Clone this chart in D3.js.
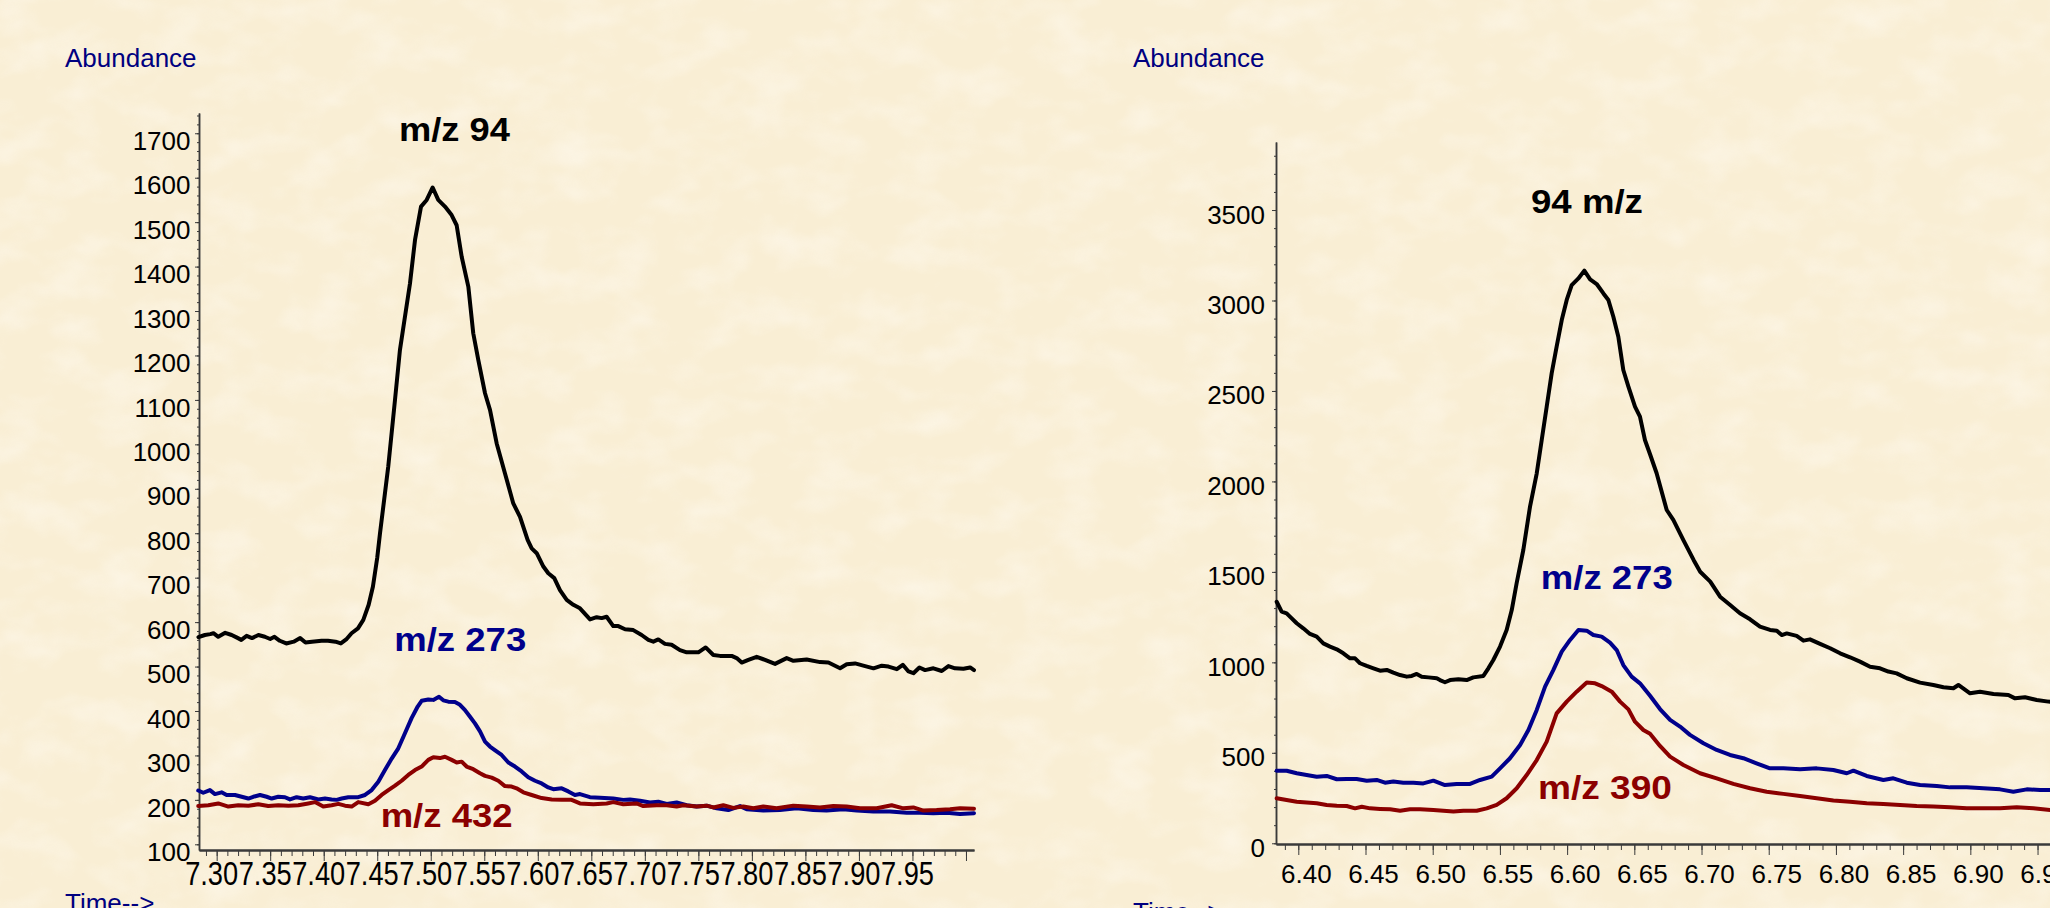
<!DOCTYPE html>
<html>
<head>
<meta charset="utf-8">
<title>Ion chromatograms</title>
<style>
body { margin: 0; overflow: hidden; background: #f9efd6; }
svg { display: block; }
text { font-family: "Liberation Sans", Arial, sans-serif; }
.axis path, .axis line { stroke: #3a3a3a; }
.axis path { stroke-width: 1.5px; }
.xaxis path { stroke-width: 2px; }
.trace { fill: none; stroke-width: 4px; stroke-linejoin: round; stroke-linecap: round; }
.tick-label { font-size: 26px; fill: #000; }
.ion-label { font-size: 34px; font-weight: bold; }
.unit-label { font-size: 26px; fill: #000080; }
</style>
</head>
<body>
<script src="https://cdn.jsdelivr.net/npm/d3@7"></script>
<script>

// ---- left run: time (min), abundance ----
var left94 = [[7.283,566],[7.289,571],[7.294,573],[7.297,575],[7.3015,567],[7.308,576],[7.314,571],[7.319,565],[7.323,560],[7.328,569],[7.333,564],[7.339,571],[7.345,567],[7.350,562],[7.354,567],[7.359,558],[7.365,552],[7.372,556],[7.378,564],[7.383,554],[7.389,556],[7.398,558],[7.404,558],[7.411,556],[7.416,552],[7.421,561],[7.426,575],[7.432,586],[7.437,605],[7.442,639],[7.446,680],[7.450,745],[7.4526,800],[7.4603,950],[7.4666,1100],[7.4712,1212],[7.4759,1287],[7.4806,1362],[7.4853,1460],[7.4909,1535],[7.4962,1550],[7.5018,1578],[7.5070,1550],[7.5133,1535],[7.5195,1516],[7.5242,1493],[7.5289,1422],[7.5351,1355],[7.5397,1250],[7.5444,1190],[7.5507,1115],[7.5554,1077],[7.5616,1002],[7.5693,935],[7.5771,867],[7.5834,837],[7.5905,785],[7.5943,766],[7.5990,755],[7.6052,725],[7.6098,710],[7.6154,699],[7.6207,672],[7.6270,650],[7.6332,639],[7.6394,631],[7.6488,606],[7.6550,611],[7.6597,609],[7.6643,612],[7.6705,591],[7.6752,591],[7.6815,584],[7.6892,582],[7.6970,571],[7.7033,560],[7.7079,556],[7.7126,561],[7.7188,551],[7.7250,549],[7.7328,537],[7.7391,532],[7.7500,532],[7.7568,543],[7.7640,526],[7.7702,524],[7.7811,524],[7.7858,519],[7.7905,509],[7.7967,515],[7.8045,522],[7.8123,515],[7.8216,506],[7.8325,519],[7.8388,513],[7.8512,516],[7.8637,510],[7.8715,509],[7.8824,496],[7.8886,505],[7.8964,507],[7.9058,501],[7.9136,496],[7.9214,502],[7.9276,500],[7.9354,494],[7.9410,504],[7.9463,489],[7.9509,485],[7.9565,498],[7.9618,492],[7.9696,496],[7.9774,490],[7.9836,501],[7.9898,496],[7.9976,495],[8.0039,498],[8.0075,492]];

var left273 = [[7.2828,221],[7.2875,216],[7.2937,222],[7.2984,213],[7.3046,217],[7.3093,211],[7.3171,211],[7.3233,207],[7.3296,203],[7.3342,207],[7.3405,211],[7.3467,207],[7.3514,203],[7.3576,207],[7.3638,206],[7.3685,201],[7.3747,206],[7.3809,203],[7.3872,206],[7.3950,201],[7.4012,203],[7.4074,201],[7.4121,200],[7.4168,203],[7.4230,206],[7.4323,206],[7.4386,211],[7.4448,222],[7.4510,241],[7.4572,267],[7.4635,293],[7.4697,316],[7.4759,350],[7.4821,384],[7.4878,410],[7.4915,423],[7.4977,426],[7.5024,425],[7.5077,432],[7.5117,424],[7.5164,421],[7.5226,420],[7.5273,414],[7.5320,402],[7.5367,387],[7.5413,372],[7.5460,354],[7.5507,331],[7.5553,320],[7.5615,309],[7.5662,301],[7.5725,284],[7.5787,275],[7.5849,264],[7.5911,251],[7.5974,243],[7.6036,237],[7.6098,228],[7.6145,224],[7.6223,226],[7.6285,219],[7.6347,211],[7.6394,213],[7.6487,206],[7.6581,205],[7.6705,203],[7.6799,200],[7.6861,201],[7.6955,198],[7.7048,194],[7.7126,196],[7.7204,191],[7.7297,194],[7.7391,188],[7.7484,185],[7.7577,187],[7.7671,181],[7.7780,177],[7.7889,186],[7.7951,179],[7.8107,176],[7.8262,177],[7.8418,181],[7.8574,177],[7.8698,176],[7.8854,179],[7.8979,176],[7.9134,174],[7.9290,174],[7.9446,171],[7.9570,171],[7.9695,170],[7.9819,171],[7.9944,168],[8.0075,170]];

var left432 = [[7.2828,186],[7.2922,188],[7.3015,192],[7.3109,185],[7.3202,188],[7.3296,187],[7.3389,190],[7.3482,186],[7.3576,188],[7.3670,187],[7.3763,188],[7.3856,192],[7.3918,195],[7.3996,185],[7.4074,188],[7.4137,191],[7.4199,187],[7.4261,185],[7.4323,195],[7.4417,190],[7.4479,198],[7.4541,211],[7.4604,222],[7.4666,232],[7.4728,243],[7.4790,256],[7.4853,267],[7.4915,275],[7.4977,290],[7.5024,296],[7.5086,294],[7.5133,297],[7.5195,290],[7.5242,284],[7.5289,286],[7.5335,275],[7.5397,269],[7.5460,260],[7.5507,254],[7.5569,250],[7.5631,243],[7.5693,231],[7.5756,230],[7.5802,226],[7.5865,217],[7.5943,211],[7.6036,204],[7.6130,201],[7.6223,200],[7.6316,200],[7.6394,192],[7.6519,190],[7.6643,192],[7.6705,195],[7.6799,190],[7.6923,192],[7.6986,186],[7.7110,188],[7.7204,188],[7.7297,185],[7.7359,188],[7.7484,185],[7.7577,187],[7.7640,183],[7.7733,188],[7.7826,182],[7.7920,185],[7.8013,181],[7.8107,185],[7.8231,181],[7.8387,187],[7.8512,185],[7.8636,183],[7.8761,186],[7.8885,185],[7.9010,181],[7.9166,181],[7.9306,188],[7.9415,181],[7.9508,183],[7.9602,176],[7.9726,177],[7.9851,179],[7.9944,181],[8.0075,180]];

// ---- right run ----
var right94 = [[6.3839,1335],[6.3876,1280],[6.3913,1271],[6.3951,1243],[6.3988,1216],[6.4037,1188],[6.4087,1157],[6.4137,1142],[6.4186,1105],[6.4236,1087],[6.4286,1072],[6.4335,1050],[6.4385,1022],[6.4422,1022],[6.4459,995],[6.4509,980],[6.4559,967],[6.4608,954],[6.4658,958],[6.4707,943],[6.4757,930],[6.4807,921],[6.4844,925],[6.4881,936],[6.4918,921],[6.4968,917],[6.5030,912],[6.5054,902],[6.5091,890],[6.5129,902],[6.5191,906],[6.5253,902],[6.5302,917],[6.5377,925],[6.5414,967],[6.5451,1013],[6.5501,1087],[6.5550,1179],[6.5588,1289],[6.5625,1440],[6.5674,1621],[6.5724,1861],[6.5774,2045],[6.5811,2229],[6.5848,2413],[6.5885,2597],[6.5922,2745],[6.5960,2892],[6.5997,3003],[6.6034,3085],[6.6084,3122],[6.6128,3165],[6.6171,3117],[6.6220,3091],[6.6270,3039],[6.6307,3003],[6.6344,2910],[6.6381,2800],[6.6418,2616],[6.6456,2524],[6.6505,2413],[6.6542,2358],[6.6579,2229],[6.6617,2150],[6.6666,2045],[6.6741,1842],[6.6790,1787],[6.6865,1676],[6.6941,1566],[6.6990,1501],[6.7065,1446],[6.7138,1363],[6.7213,1317],[6.7286,1271],[6.7361,1238],[6.7435,1197],[6.7510,1179],[6.7560,1175],[6.7597,1151],[6.7634,1160],[6.7708,1146],[6.7758,1120],[6.7807,1127],[6.7882,1102],[6.7957,1078],[6.8031,1050],[6.8105,1028],[6.8179,1004],[6.8254,976],[6.8328,967],[6.8390,949],[6.8452,939],[6.8527,912],[6.8626,888],[6.8725,875],[6.8800,862],[6.8874,857],[6.8911,875],[6.8998,829],[6.9072,838],[6.9172,825],[6.9283,820],[6.9333,801],[6.9407,807],[6.9494,792],[6.9581,783],[6.9650,778]];

var right273 = [[6.3839,401],[6.3913,401],[6.3988,387],[6.4062,377],[6.4137,368],[6.4211,372],[6.4286,354],[6.4360,355],[6.4434,355],[6.4509,346],[6.4583,350],[6.4645,335],[6.4707,341],[6.4781,335],[6.4856,335],[6.4930,331],[6.5005,346],[6.5091,322],[6.5178,328],[6.5278,328],[6.5352,350],[6.5439,368],[6.5501,414],[6.5575,470],[6.5650,543],[6.5712,626],[6.5774,737],[6.5836,866],[6.5898,958],[6.5960,1059],[6.6022,1124],[6.6084,1179],[6.6146,1175],[6.6195,1151],[6.6257,1142],[6.6319,1109],[6.6369,1068],[6.6418,985],[6.6480,921],[6.6542,884],[6.6617,815],[6.6691,742],[6.6766,682],[6.6840,645],[6.6914,599],[6.7014,553],[6.7113,516],[6.7212,488],[6.7311,470],[6.7409,442],[6.7509,414],[6.7609,414],[6.7733,409],[6.7857,414],[6.7981,405],[6.8081,387],[6.8130,401],[6.8229,372],[6.8353,350],[6.8427,359],[6.8527,335],[6.8626,322],[6.8750,317],[6.8849,309],[6.8973,309],[6.9097,304],[6.9221,298],[6.9320,285],[6.9420,298],[6.9519,295],[6.9650,295]];

var right390 = [[6.3839,249],[6.3913,239],[6.3988,230],[6.4062,225],[6.4137,221],[6.4211,212],[6.4286,208],[6.4360,206],[6.4422,193],[6.4472,202],[6.4534,193],[6.4608,190],[6.4683,188],[6.4757,180],[6.4831,188],[6.4906,188],[6.5005,184],[6.5079,180],[6.5154,175],[6.5228,180],[6.5327,180],[6.5402,193],[6.5476,212],[6.5550,249],[6.5625,304],[6.5699,377],[6.5774,460],[6.5848,562],[6.5922,718],[6.5997,783],[6.6071,838],[6.6146,888],[6.6208,884],[6.6257,869],[6.6332,838],[6.6394,783],[6.6456,740],[6.6505,672],[6.6567,626],[6.6617,605],[6.6691,538],[6.6766,479],[6.6865,433],[6.6989,387],[6.7113,359],[6.7237,328],[6.7361,304],[6.7485,285],[6.7609,273],[6.7733,261],[6.7857,249],[6.7981,236],[6.8105,230],[6.8229,221],[6.8353,217],[6.8477,212],[6.8601,206],[6.8725,203],[6.8849,199],[6.8973,193],[6.9097,193],[6.9221,193],[6.9345,199],[6.9469,193],[6.9593,184],[6.9650,185]];

// axis ticks
var leftTimeTicks = [7.30,7.35,7.40,7.45,7.50,7.55,7.60,7.65,7.70,7.75,7.80,7.85,7.90,7.95,8.00];
var leftTimeLabels = ["7.30","7.35","7.40","7.45","7.50","7.55","7.60","7.65","7.70","7.75","7.80","7.85","7.90","7.95",""];
var leftAbundanceTicks = [100,200,300,400,500,600,700,800,900,1000,1100,1200,1300,1400,1500,1600,1700];
var rightTimeTicks = [6.40,6.45,6.50,6.55,6.60,6.65,6.70,6.75,6.80,6.85,6.90,6.95];
var rightTimeLabels = ["6.40","6.45","6.50","6.55","6.60","6.65","6.70","6.75","6.80","6.85","6.90","6.95"];
var rightAbundanceTicks = [0,500,1000,1500,2000,2500,3000,3500];

// ion labels: text, time, abundance (start / baseline), colour
var leftIonLabels = [
  {text: "m/z 94",  t: 7.4703, v: 1683, color: "#000", len: 111},
  {text: "m/z 273", t: 7.4659, v: 535,  color: "#00008b", len: 132},
  {text: "m/z 432", t: 7.4532, v: 140,  color: "#8b0000", len: 132}
];
var rightIonLabels = [
  {text: "94 m/z",  t: 6.5731, v: 3482, color: "#000", len: 112},
  {text: "m/z 273", t: 6.5804, v: 1404, color: "#00008b", len: 132},
  {text: "m/z 390", t: 6.5783, v: 243,  color: "#8b0000", len: 134}
];

var width = 2050,
    height = 908;

var svg = d3.select("body").append("svg")
    .attr("width", width)
    .attr("height", height);

// parchment background
var defs = svg.append("defs");
var paper = defs.append("filter").attr("id", "paper")
    .attr("x", 0).attr("y", 0).attr("width", "100%").attr("height", "100%");
paper.append("feTurbulence")
    .attr("type", "fractalNoise")
    .attr("baseFrequency", "0.02 0.03")
    .attr("numOctaves", 3)
    .attr("seed", 11);
paper.append("feColorMatrix")
    .attr("type", "matrix")
    .attr("values", "0 0 0 0 1  0 0 0 0 0.975  0 0 0 0 0.92  2.0 0 0 0 -0.85");

svg.append("rect").attr("width", width).attr("height", height).attr("fill", "#f9eed4");
svg.append("rect").attr("width", width).attr("height", height).attr("filter", "url(#paper)").attr("opacity", 0.45);

var line = d3.line();

function drawPanel(p) {
  var g = svg.append("g");

  var x = d3.scaleLinear().domain(p.xDomain).range(p.xRange);
  var y = d3.scaleLinear().domain(p.yDomain).range(p.yRange);

  // y axis
  g.append("g")
      .attr("class", "axis")
      .attr("transform", "translate(" + p.xRange[0] + ",0)")
      .call(d3.axisLeft(y).tickValues(p.yMinor).tickSize(2).tickSizeOuter(0).tickFormat(""));
  g.append("g")
      .attr("class", "axis")
      .attr("transform", "translate(" + p.xRange[0] + ",0)")
      .call(d3.axisLeft(y).tickValues(p.yTicks).tickSize(4).tickSizeOuter(0).tickFormat(""));

  // x axis
  g.append("g")
      .attr("class", "axis xaxis")
      .attr("transform", "translate(0," + p.yRange[0] + ")")
      .call(d3.axisBottom(x).tickValues(p.xMinor).tickSize(6).tickSizeOuter(0).tickFormat(""));
  g.append("g")
      .attr("class", "axis xaxis")
      .attr("transform", "translate(0," + p.yRange[0] + ")")
      .call(d3.axisBottom(x).tickValues(p.xTicks).tickSize(11).tickSizeOuter(0).tickFormat(""));

  g.selectAll(".ylab")
      .data(p.yTicks)
      .enter().append("text")
      .attr("class", "tick-label")
      .attr("text-anchor", "end")
      .attr("x", p.xRange[0] - p.yLabelGap)
      .attr("y", function(d) { return y(d) + p.yLabelDrop; })
      .text(function(d) { return d; });

  var xl = g.selectAll(".xlab")
      .data(p.xTicks)
      .enter().append("text")
      .attr("class", "tick-label")
      .attr("y", p.xLabelBaseline)
      .style("font-size", p.xLabelSize + "px")
      .text(function(d, i) { return p.xLabels[i]; });
  if (p.xLabelLength) {
    // these labels are squeezed side by side in the original
    xl.attr("x", function(d) { return x(d) + p.xLabelShift - p.xLabelLength / 2; })
      .attr("textLength", function(d, i) { return p.xLabels[i] ? p.xLabelLength : null; })
      .attr("lengthAdjust", "spacingAndGlyphs");
  } else {
    xl.attr("text-anchor", "middle")
      .attr("x", function(d) { return x(d) + p.xLabelShift; });
  }

  line.x(function(d) { return x(d[0]); })
      .y(function(d) { return y(d[1]); });

  p.series.forEach(function(s) {
    g.append("path")
        .datum(s.values)
        .attr("class", "trace")
        .attr("stroke", s.color)
        .attr("d", line);
  });

  g.selectAll(".ion")
      .data(p.ions)
      .enter().append("text")
      .attr("class", "ion-label")
      .attr("x", function(d) { return x(d.t); })
      .attr("y", function(d) { return y(d.v); })
      .attr("fill", function(d) { return d.color; })
      .attr("textLength", function(d) { return d.len; })
      .attr("lengthAdjust", "spacingAndGlyphs")
      .text(function(d) { return d.text; });

  g.append("text")
      .attr("class", "unit-label")
      .attr("x", p.titleX)
      .attr("y", 67)
      .text("Abundance");

  g.append("text")
      .attr("class", "unit-label")
      .attr("x", p.titleX)
      .attr("y", p.timeBaseline)
      .text("Time-->");
}

drawPanel({
  xDomain: [7.2835, 8.0075], xRange: [199, 974],
  yDomain: [87.2, 1745.6], yRange: [850, 113],
  xTicks: leftTimeTicks, xLabels: leftTimeLabels,
  xMinor: d3.range(729, 801).map(function(i) { return i / 100; }),
  yTicks: leftAbundanceTicks,
  yMinor: d3.range(100, 1741, 20),
  yLabelGap: 8.5, yLabelDrop: 16.7,
  xLabelBaseline: 885, xLabelSize: 33, xLabelShift: -5, xLabelLength: 53,
  series: [
    {values: left94, color: "#000"},
    {values: left273, color: "#00008b"},
    {values: left432, color: "#8b0000"}
  ],
  ions: leftIonLabels,
  titleX: 65, timeBaseline: 912
});

drawPanel({
  xDomain: [6.3834, 6.9650], xRange: [1276, 2057.7],
  yDomain: [-4, 3876], yRange: [844, 142],
  xTicks: rightTimeTicks, xLabels: rightTimeLabels,
  xMinor: d3.range(639, 697).map(function(i) { return i / 100; }),
  yTicks: rightAbundanceTicks,
  yMinor: d3.range(0, 3801, 100),
  yLabelGap: 11, yLabelDrop: 13.5,
  xLabelBaseline: 883, xLabelSize: 26, xLabelShift: 8, xLabelLength: 0,
  series: [
    {values: right94, color: "#000"},
    {values: right273, color: "#00008b"},
    {values: right390, color: "#8b0000"}
  ],
  ions: rightIonLabels,
  titleX: 1133, timeBaseline: 921
});

</script>
</body>
</html>
